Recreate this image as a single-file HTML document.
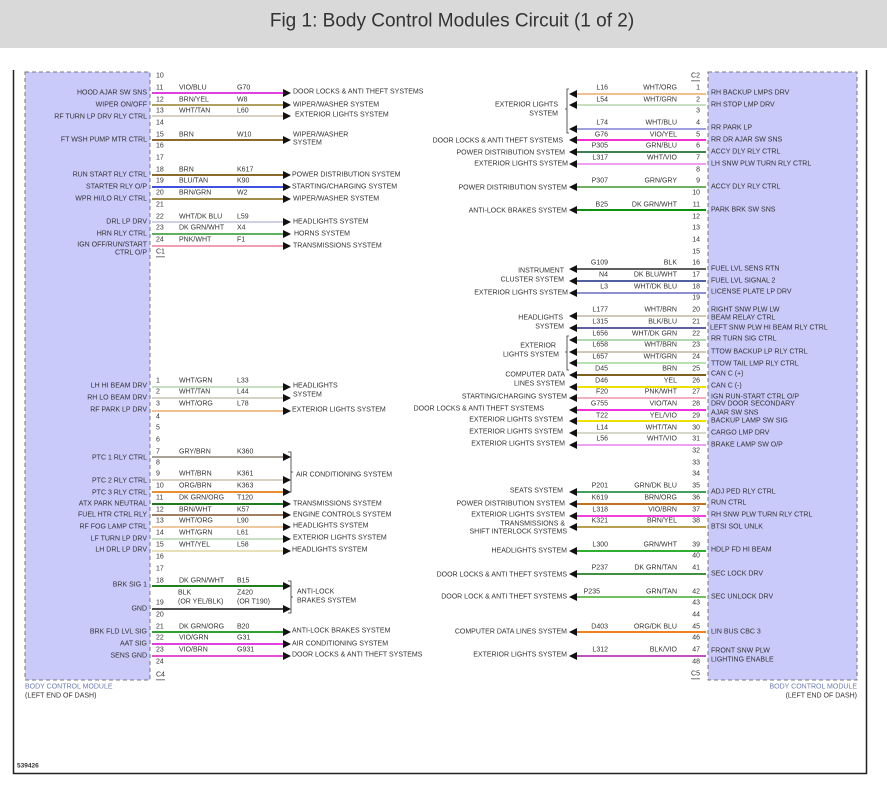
<!DOCTYPE html>
<html><head><meta charset="utf-8"><style>
body{margin:0;background:#fff;width:887px;height:799px;overflow:hidden}
svg{display:block}
text{font-family:"Liberation Sans",sans-serif;font-size:7px;fill:#333;dominant-baseline:central}
.e{text-anchor:end}
.t{font-size:19px;fill:#333;text-anchor:middle}
.b{fill:#6b7bb0}
</style></head><body>
<svg width="887" height="799" viewBox="0 0 887 799">
<rect x="0" y="0" width="887" height="48" fill="#d9d9d9"/>
<text class="t" x="452" y="21">Fig 1: Body Control Modules Circuit (1 of 2)</text>
<path d="M13.5 70V773.5H866.5V70" fill="none" stroke="#222" stroke-width="1.5"/>
<rect x="25" y="72" width="125" height="608" fill="#c9c9fa" stroke="#777" stroke-dasharray="4,3"/>
<rect x="708" y="72" width="149" height="608" fill="#c9c9fa" stroke="#777" stroke-dasharray="4,3"/>
<text x="25" y="687" class="b">BODY CONTROL MODULE</text>
<text x="25" y="696">(LEFT END OF DASH)</text>
<text x="857" y="687" class="b e">BODY CONTROL MODULE</text>
<text x="857" y="696" class="e">(LEFT END OF DASH)</text>
<text x="17" y="766" style="font-weight:bold;font-size:6.5px">539426</text>

<!-- LEFT TOP pins -->
<g>
<text x="156" y="76">10</text><text x="156" y="88">11</text><text x="156" y="100">12</text><text x="156" y="111">13</text><text x="156" y="123">14</text><text x="156" y="135">15</text><text x="156" y="146">16</text><text x="156" y="158">17</text><text x="156" y="170">18</text><text x="156" y="181">19</text><text x="156" y="193">20</text><text x="156" y="205">21</text><text x="156" y="217">22</text><text x="156" y="228">23</text><text x="156" y="240">24</text><text x="156" y="252" style="text-decoration:underline">C1</text>
</g>
<g stroke-width="2">
<line x1="152" y1="93" x2="285" y2="93" stroke="#e040e0"/>
<line x1="152" y1="105" x2="285" y2="105" stroke="#b0a060"/>
<line x1="152" y1="116" x2="285" y2="116" stroke="#d8d2c4"/>
<line x1="152" y1="140" x2="285" y2="140" stroke="#8b6a2b"/>
<line x1="152" y1="175" x2="285" y2="175" stroke="#8b6a2b"/>
<line x1="152" y1="187" x2="285" y2="187" stroke="#4050e0"/>
<line x1="152" y1="199" x2="285" y2="199" stroke="#a08c4a"/>
<line x1="152" y1="222" x2="285" y2="222" stroke="#d0d0e4"/>
<line x1="152" y1="234" x2="285" y2="234" stroke="#60b060"/>
<line x1="152" y1="246" x2="285" y2="246" stroke="#f0a0b0"/>
</g>
<g fill="#111">
<polygon points="283,89 291,93 283,97"/><polygon points="283,101 291,105 283,109"/><polygon points="283,112 291,116 283,120"/><polygon points="283,136 291,140 283,144"/><polygon points="283,171 291,175 283,179"/><polygon points="283,183 291,187 283,191"/><polygon points="283,195 291,199 283,203"/><polygon points="283,218 291,222 283,226"/><polygon points="283,230 291,234 283,238"/><polygon points="283,242 291,246 283,250"/>
</g>
<g>
<text x="179" y="88">VIO/BLU</text><text x="237" y="88">G70</text>
<text x="179" y="100">BRN/YEL</text><text x="237" y="100">W8</text>
<text x="179" y="111">WHT/TAN</text><text x="237" y="111">L60</text>
<text x="179" y="135">BRN</text><text x="237" y="135">W10</text>
<text x="179" y="170">BRN</text><text x="237" y="170">K617</text>
<text x="179" y="181">BLU/TAN</text><text x="237" y="181">K90</text>
<text x="179" y="193">BRN/GRN</text><text x="237" y="193">W2</text>
<text x="179" y="217">WHT/DK BLU</text><text x="237" y="217">L59</text>
<text x="179" y="228">DK GRN/WHT</text><text x="237" y="228">X4</text>
<text x="179" y="240">PNK/WHT</text><text x="237" y="240">F1</text>
<text x="147" y="93" class="e">HOOD AJAR SW SNS</text>
<text x="147" y="105" class="e">WIPER ON/OFF</text>
<text x="147" y="117" class="e">RF TURN LP DRV RLY CTRL</text>
<text x="147" y="140" class="e">FT WSH PUMP MTR CTRL</text>
<text x="147" y="175" class="e">RUN START RLY CTRL</text>
<text x="147" y="187" class="e">STARTER RLY O/P</text>
<text x="147" y="199" class="e">WPR HI/LO RLY CTRL</text>
<text x="147" y="222" class="e">DRL LP DRV</text>
<text x="147" y="234" class="e">HRN RLY CTRL</text>
<text x="147" y="245" class="e">IGN OFF/RUN/START</text>
<text x="147" y="253" class="e">CTRL O/P</text>
<text x="293" y="92">DOOR LOCKS &amp; ANTI THEFT SYSTEMS</text>
<text x="293" y="105">WIPER/WASHER SYSTEM</text>
<text x="295" y="115">EXTERIOR LIGHTS SYSTEM</text>
<text x="293" y="135">WIPER/WASHER</text><text x="293" y="143">SYSTEM</text>
<text x="292" y="175">POWER DISTRIBUTION SYSTEM</text>
<text x="292" y="187">STARTING/CHARGING SYSTEM</text>
<text x="293" y="199">WIPER/WASHER SYSTEM</text>
<text x="293" y="222">HEADLIGHTS SYSTEM</text>
<text x="294" y="234">HORNS SYSTEM</text>
<text x="293" y="246">TRANSMISSIONS SYSTEM</text>
</g>

<!-- LEFT BOTTOM -->
<g>
<text x="156" y="381">1</text><text x="156" y="392">2</text><text x="156" y="404">3</text><text x="156" y="417">4</text><text x="156" y="428">5</text><text x="156" y="440">6</text><text x="156" y="452">7</text><text x="156" y="463">8</text><text x="156" y="474">9</text><text x="156" y="486">10</text><text x="156" y="498">11</text><text x="156" y="510">12</text><text x="156" y="521">13</text><text x="156" y="533">14</text><text x="156" y="545">15</text><text x="156" y="557">16</text><text x="156" y="569">17</text><text x="156" y="581">18</text><text x="156" y="603">19</text><text x="156" y="615">20</text><text x="156" y="627">21</text><text x="156" y="638">22</text><text x="156" y="650">23</text><text x="156" y="662">24</text><text x="156" y="675" style="text-decoration:underline">C4</text>
</g>
<g stroke-width="2">
<line x1="152" y1="387" x2="285" y2="387" stroke="#c8e0c0"/>
<line x1="152" y1="398" x2="285" y2="398" stroke="#d8d2c4"/>
<line x1="152" y1="411" x2="285" y2="411" stroke="#f0c090"/>
<line x1="152" y1="457" x2="285" y2="457" stroke="#a8a298"/>
<line x1="152" y1="480" x2="285" y2="480" stroke="#d8d0c0"/>
<line x1="152" y1="492" x2="285" y2="492" stroke="#e89030"/>
<line x1="152" y1="504" x2="285" y2="504" stroke="#207a20"/>
<line x1="152" y1="515" x2="285" y2="515" stroke="#a08060"/>
<line x1="152" y1="527" x2="285" y2="527" stroke="#f0c8a0"/>
<line x1="152" y1="539" x2="285" y2="539" stroke="#c8e0c0"/>
<line x1="152" y1="551" x2="285" y2="551" stroke="#e8e0b8"/>
<line x1="152" y1="586" x2="285" y2="586" stroke="#208020"/>
<line x1="152" y1="609" x2="285" y2="609" stroke="#505050"/>
<line x1="152" y1="632" x2="285" y2="632" stroke="#30a030"/>
<line x1="152" y1="644" x2="285" y2="644" stroke="#e040e0"/>
<line x1="152" y1="656" x2="285" y2="656" stroke="#e050d0"/>
</g>
<g fill="#111">
<polygon points="283,383 291,387 283,391"/><polygon points="283,394 291,398 283,402"/><polygon points="283,407 291,411 283,415"/><polygon points="283,453 291,457 283,461"/><polygon points="283,476 291,480 283,484"/><polygon points="283,488 291,492 283,496"/><polygon points="283,500 291,504 283,508"/><polygon points="283,511 291,515 283,519"/><polygon points="283,523 291,527 283,531"/><polygon points="283,535 291,539 283,543"/><polygon points="283,547 291,551 283,555"/><polygon points="283,582 291,586 283,590"/><polygon points="283,605 291,609 283,613"/><polygon points="283,628 291,632 283,636"/><polygon points="283,640 291,644 283,648"/><polygon points="283,652 291,656 283,660"/>
</g>
<path d="M288 452h3v40h-3M291 472h2M288 581h3v32h-3M291 597h2" fill="none" stroke="#333" stroke-width="0.8"/>
<g>
<text x="179" y="381">WHT/GRN</text><text x="237" y="381">L33</text>
<text x="179" y="392">WHT/TAN</text><text x="237" y="392">L44</text>
<text x="179" y="404">WHT/ORG</text><text x="237" y="404">L78</text>
<text x="179" y="452">GRY/BRN</text><text x="237" y="452">K360</text>
<text x="179" y="474">WHT/BRN</text><text x="237" y="474">K361</text>
<text x="179" y="486">ORG/BRN</text><text x="237" y="486">K363</text>
<text x="179" y="498">DK GRN/ORG</text><text x="237" y="498">T120</text>
<text x="179" y="510">BRN/WHT</text><text x="237" y="510">K57</text>
<text x="179" y="521">WHT/ORG</text><text x="237" y="521">L90</text>
<text x="179" y="533">WHT/GRN</text><text x="237" y="533">L61</text>
<text x="179" y="545">WHT/YEL</text><text x="237" y="545">L58</text>
<text x="179" y="581">DK GRN/WHT</text><text x="237" y="581">B15</text>
<text x="178" y="593">BLK</text><text x="237" y="593">Z420</text>
<text x="178" y="602">(OR YEL/BLK)</text><text x="237" y="602">(OR T190)</text>
<text x="179" y="627">DK GRN/ORG</text><text x="237" y="627">B20</text>
<text x="179" y="638">VIO/GRN</text><text x="237" y="638">G31</text>
<text x="179" y="650">VIO/BRN</text><text x="237" y="650">G931</text>
<text x="147" y="386" class="e">LH HI BEAM DRV</text>
<text x="147" y="398" class="e">RH LO BEAM DRV</text>
<text x="147" y="410" class="e">RF PARK LP DRV</text>
<text x="147" y="458" class="e">PTC 1 RLY CTRL</text>
<text x="147" y="481" class="e">PTC 2 RLY CTRL</text>
<text x="147" y="493" class="e">PTC 3 RLY CTRL</text>
<text x="147" y="504" class="e">ATX PARK NEUTRAL</text>
<text x="147" y="515" class="e">FUEL HTR CTRL RLY</text>
<text x="147" y="527" class="e">RF FOG LAMP CTRL</text>
<text x="147" y="539" class="e">LF TURN LP DRV</text>
<text x="147" y="550" class="e">LH DRL LP DRV</text>
<text x="147" y="585" class="e">BRK SIG 1</text>
<text x="147" y="609" class="e">GND</text>
<text x="147" y="632" class="e">BRK FLD LVL SIG</text>
<text x="147" y="644" class="e">AAT SIG</text>
<text x="147" y="656" class="e">SENS GND</text>
<text x="293" y="386">HEADLIGHTS</text><text x="293" y="395">SYSTEM</text>
<text x="292" y="410">EXTERIOR LIGHTS SYSTEM</text>
<text x="296" y="475">AIR CONDITIONING SYSTEM</text>
<text x="293" y="504">TRANSMISSIONS SYSTEM</text>
<text x="293" y="515">ENGINE CONTROLS SYSTEM</text>
<text x="293" y="526">HEADLIGHTS SYSTEM</text>
<text x="293" y="538">EXTERIOR LIGHTS SYSTEM</text>
<text x="292" y="550">HEADLIGHTS SYSTEM</text>
<text x="297" y="592">ANTI-LOCK</text><text x="297" y="601">BRAKES SYSTEM</text>
<text x="292" y="631">ANTI-LOCK BRAKES SYSTEM</text>
<text x="292" y="644">AIR CONDITIONING SYSTEM</text>
<text x="292" y="655">DOOR LOCKS &amp; ANTI THEFT SYSTEMS</text>
</g>

<!-- RIGHT pins -->
<g class="e">
<text x="700" y="76" class="e" style="text-decoration:underline">C2</text>
<text x="700" y="88" class="e">1</text><text x="700" y="100" class="e">2</text><text x="700" y="111" class="e">3</text><text x="700" y="123" class="e">4</text><text x="700" y="135" class="e">5</text><text x="700" y="146" class="e">6</text><text x="700" y="158" class="e">7</text><text x="700" y="170" class="e">8</text><text x="700" y="181" class="e">9</text><text x="700" y="193" class="e">10</text><text x="700" y="205" class="e">11</text><text x="700" y="217" class="e">12</text><text x="700" y="228" class="e">13</text><text x="700" y="240" class="e">14</text><text x="700" y="252" class="e">15</text>
<text x="700" y="263" class="e">16</text><text x="700" y="275" class="e">17</text><text x="700" y="287" class="e">18</text><text x="700" y="298" class="e">19</text><text x="700" y="310" class="e">20</text><text x="700" y="322" class="e">21</text><text x="700" y="334" class="e">22</text><text x="700" y="345" class="e">23</text><text x="700" y="357" class="e">24</text><text x="700" y="369" class="e">25</text><text x="700" y="381" class="e">26</text><text x="700" y="392" class="e">27</text><text x="700" y="404" class="e">28</text><text x="700" y="416" class="e">29</text><text x="700" y="428" class="e">30</text><text x="700" y="439" class="e">31</text><text x="700" y="451" class="e">32</text>
<text x="700" y="463" class="e">33</text><text x="700" y="474" class="e">34</text><text x="700" y="486" class="e">35</text><text x="700" y="498" class="e">36</text><text x="700" y="510" class="e">37</text><text x="700" y="521" class="e">38</text><text x="700" y="545" class="e">39</text><text x="700" y="556" class="e">40</text><text x="700" y="568" class="e">41</text><text x="700" y="592" class="e">42</text><text x="700" y="603" class="e">43</text><text x="700" y="615" class="e">44</text><text x="700" y="627" class="e">45</text><text x="700" y="638" class="e">46</text><text x="700" y="650" class="e">47</text><text x="700" y="662" class="e">48</text><text x="700" y="674" class="e" style="text-decoration:underline">C5</text>
</g>
<g stroke-width="2">
<line x1="572" y1="94" x2="706" y2="94" stroke="#f0c090"/>
<line x1="572" y1="105" x2="706" y2="105" stroke="#c8e0c0"/>
<line x1="572" y1="129" x2="706" y2="129" stroke="#a0a0e0"/>
<line x1="572" y1="140" x2="706" y2="140" stroke="#f030d0"/>
<line x1="572" y1="152" x2="706" y2="152" stroke="#408050"/>
<line x1="572" y1="164" x2="706" y2="164" stroke="#f0a0f0"/>
<line x1="572" y1="187" x2="706" y2="187" stroke="#70b060"/>
<line x1="572" y1="210" x2="706" y2="210" stroke="#109010"/>
<line x1="572" y1="269" x2="706" y2="269" stroke="#606060"/>
<line x1="572" y1="281" x2="706" y2="281" stroke="#5060a0"/>
<line x1="572" y1="293" x2="706" y2="293" stroke="#9090d0"/>
<line x1="572" y1="316" x2="706" y2="316" stroke="#d0c8b8"/>
<line x1="572" y1="328" x2="706" y2="328" stroke="#6060a0"/>
<line x1="572" y1="340" x2="706" y2="340" stroke="#b0d8b0"/>
<line x1="572" y1="352" x2="706" y2="352" stroke="#d0c8b8"/>
<line x1="572" y1="363" x2="706" y2="363" stroke="#b8e0b0"/>
<line x1="572" y1="375" x2="706" y2="375" stroke="#806020"/>
<line x1="572" y1="387" x2="706" y2="387" stroke="#f0e000"/>
<line x1="572" y1="398" x2="706" y2="398" stroke="#f0b0c0"/>
<line x1="572" y1="410" x2="706" y2="410" stroke="#f030e0"/>
<line x1="572" y1="421" x2="706" y2="421" stroke="#f0e000"/>
<line x1="572" y1="433" x2="706" y2="433" stroke="#d8d8c8"/>
<line x1="572" y1="445" x2="706" y2="445" stroke="#f0a0f0"/>
<line x1="572" y1="492" x2="706" y2="492" stroke="#40a060"/>
<line x1="572" y1="504" x2="706" y2="504" stroke="#c07020"/>
<line x1="572" y1="516" x2="706" y2="516" stroke="#f040e0"/>
<line x1="572" y1="527" x2="706" y2="527" stroke="#b8a050"/>
<line x1="572" y1="551" x2="706" y2="551" stroke="#30b030"/>
<line x1="572" y1="574" x2="706" y2="574" stroke="#409040"/>
<line x1="572" y1="597" x2="706" y2="597" stroke="#70c060"/>
<line x1="572" y1="632" x2="706" y2="632" stroke="#f08020"/>
<line x1="572" y1="656" x2="706" y2="656" stroke="#c050c0"/>
</g>
<g fill="#111">
<polygon points="577,90 569,94 577,98"/><polygon points="577,101 569,105 577,109"/><polygon points="577,125 569,129 577,133"/><polygon points="577,136 569,140 577,144"/><polygon points="577,148 569,152 577,156"/><polygon points="577,160 569,164 577,168"/><polygon points="577,183 569,187 577,191"/><polygon points="577,206 569,210 577,214"/>
<polygon points="577,265 569,269 577,273"/><polygon points="577,277 569,281 577,285"/><polygon points="577,289 569,293 577,297"/><polygon points="577,312 569,316 577,320"/><polygon points="577,324 569,328 577,332"/><polygon points="577,336 569,340 577,344"/><polygon points="577,348 569,352 577,356"/><polygon points="577,359 569,363 577,367"/><polygon points="577,371 569,375 577,379"/><polygon points="577,383 569,387 577,391"/><polygon points="577,394 569,398 577,402"/><polygon points="577,406 569,410 577,414"/><polygon points="577,417 569,421 577,425"/><polygon points="577,429 569,433 577,437"/><polygon points="577,441 569,445 577,449"/>
<polygon points="577,488 569,492 577,496"/><polygon points="577,500 569,504 577,508"/><polygon points="577,512 569,516 577,520"/><polygon points="577,523 569,527 577,531"/><polygon points="577,547 569,551 577,555"/><polygon points="577,570 569,574 577,578"/><polygon points="577,593 569,597 577,601"/><polygon points="577,628 569,632 577,636"/><polygon points="577,652 569,656 577,660"/>
</g>
<path d="M569 89h-2v44h2M567 109h-2M569 336h-2v34h2M567 352h-2" fill="none" stroke="#333" stroke-width="0.8"/>
<g class="e">
<text x="600" y="88" class="e" dx="8">L16</text><text x="677" y="88" class="e">WHT/ORG</text>
<text x="608" y="100" class="e">L54</text><text x="677" y="100" class="e">WHT/GRN</text>
<text x="608" y="123" class="e">L74</text><text x="677" y="123" class="e">WHT/BLU</text>
<text x="608" y="135" class="e">G76</text><text x="677" y="135" class="e">VIO/YEL</text>
<text x="608" y="146" class="e">P305</text><text x="677" y="146" class="e">GRN/BLU</text>
<text x="608" y="158" class="e">L317</text><text x="677" y="158" class="e">WHT/VIO</text>
<text x="608" y="181" class="e">P307</text><text x="677" y="181" class="e">GRN/GRY</text>
<text x="608" y="205" class="e">B25</text><text x="677" y="205" class="e">DK GRN/WHT</text>
<text x="608" y="263" class="e">G109</text><text x="677" y="263" class="e">BLK</text>
<text x="608" y="275" class="e">N4</text><text x="677" y="275" class="e">DK BLU/WHT</text>
<text x="608" y="287" class="e">L3</text><text x="677" y="287" class="e">WHT/DK BLU</text>
<text x="608" y="310" class="e">L177</text><text x="677" y="310" class="e">WHT/BRN</text>
<text x="608" y="322" class="e">L315</text><text x="677" y="322" class="e">BLK/BLU</text>
<text x="608" y="334" class="e">L656</text><text x="677" y="334" class="e">WHT/DK GRN</text>
<text x="608" y="345" class="e">L658</text><text x="677" y="345" class="e">WHT/BRN</text>
<text x="608" y="357" class="e">L657</text><text x="677" y="357" class="e">WHT/GRN</text>
<text x="608" y="369" class="e">D45</text><text x="677" y="369" class="e">BRN</text>
<text x="608" y="381" class="e">D46</text><text x="677" y="381" class="e">YEL</text>
<text x="608" y="392" class="e">F20</text><text x="677" y="392" class="e">PNK/WHT</text>
<text x="608" y="404" class="e">G755</text><text x="677" y="404" class="e">VIO/TAN</text>
<text x="608" y="416" class="e">T22</text><text x="677" y="416" class="e">YEL/VIO</text>
<text x="608" y="428" class="e">L14</text><text x="677" y="428" class="e">WHT/TAN</text>
<text x="608" y="439" class="e">L56</text><text x="677" y="439" class="e">WHT/VIO</text>
<text x="608" y="486" class="e">P201</text><text x="677" y="486" class="e">GRN/DK BLU</text>
<text x="608" y="498" class="e">K619</text><text x="677" y="498" class="e">BRN/ORG</text>
<text x="608" y="510" class="e">L318</text><text x="677" y="510" class="e">VIO/BRN</text>
<text x="608" y="521" class="e">K321</text><text x="677" y="521" class="e">BRN/YEL</text>
<text x="608" y="545" class="e">L300</text><text x="677" y="545" class="e">GRN/WHT</text>
<text x="608" y="568" class="e">P237</text><text x="677" y="568" class="e">DK GRN/TAN</text>
<text x="600" y="592" class="e">P235</text><text x="677" y="592" class="e">GRN/TAN</text>
<text x="608" y="627" class="e">D403</text><text x="677" y="627" class="e">ORG/DK BLU</text>
<text x="608" y="650" class="e">L312</text><text x="677" y="650" class="e">BLK/VIO</text>
</g>
<g>
<text x="711" y="93">RH BACKUP LMPS DRV</text>
<text x="711" y="105">RH STOP LMP DRV</text>
<text x="711" y="128">RR PARK LP</text>
<text x="711" y="140">RR DR AJAR SW SNS</text>
<text x="711" y="152">ACCY DLY RLY CTRL</text>
<text x="711" y="164">LH SNW PLW TURN RLY CTRL</text>
<text x="711" y="187">ACCY DLY RLY CTRL</text>
<text x="711" y="210">PARK BRK SW SNS</text>
<text x="711" y="269">FUEL LVL SENS RTN</text>
<text x="711" y="281">FUEL LVL SIGNAL 2</text>
<text x="711" y="292">LICENSE PLATE LP DRV</text>
<text x="711" y="310">RIGHT SNW PLW LW</text>
<text x="711" y="318">BEAM RELAY CTRL</text>
<text x="710" y="328">LEFT SNW PLW HI BEAM RLY CTRL</text>
<text x="711" y="339">RR TURN SIG CTRL</text>
<text x="711" y="352">TTOW BACKUP LP RLY CTRL</text>
<text x="711" y="364">TTOW TAIL LMP RLY CTRL</text>
<text x="711" y="374">CAN C (+)</text>
<text x="711" y="386">CAN C (-)</text>
<text x="711" y="397">IGN RUN-START CTRL O/P</text>
<text x="711" y="404">DRV DOOR SECONDARY</text>
<text x="711" y="413">AJAR SW SNS</text>
<text x="711" y="421">BACKUP LAMP SW SIG</text>
<text x="711" y="433">CARGO LMP DRV</text>
<text x="711" y="445">BRAKE LAMP SW O/P</text>
<text x="711" y="492">ADJ PED RLY CTRL</text>
<text x="711" y="503">RUN CTRL</text>
<text x="711" y="515">RH SNW PLW TURN RLY CTRL</text>
<text x="711" y="527">BTSI SOL UNLK</text>
<text x="711" y="550">HDLP FD HI BEAM</text>
<text x="711" y="574">SEC LOCK DRV</text>
<text x="711" y="597">SEC UNLOCK DRV</text>
<text x="711" y="632">LIN BUS CBC 3</text>
<text x="711" y="651">FRONT SNW PLW</text>
<text x="711" y="660">LIGHTING ENABLE</text>
</g>
<g class="e">
<text x="558" y="105" class="e">EXTERIOR LIGHTS</text><text x="558" y="114" class="e">SYSTEM</text>
<text x="563" y="141" class="e">DOOR LOCKS &amp; ANTI THEFT SYSTEMS</text>
<text x="565" y="153" class="e">POWER DISTRIBUTION SYSTEM</text>
<text x="568" y="164" class="e">EXTERIOR LIGHTS SYSTEM</text>
<text x="567" y="188" class="e">POWER DISTRIBUTION SYSTEM</text>
<text x="567" y="211" class="e">ANTI-LOCK BRAKES SYSTEM</text>
<text x="564" y="271" class="e">INSTRUMENT</text><text x="564" y="280" class="e">CLUSTER SYSTEM</text>
<text x="568" y="293" class="e">EXTERIOR LIGHTS SYSTEM</text>
<text x="563" y="318" class="e">HEADLIGHTS</text><text x="564" y="327" class="e">SYSTEM</text>
<text x="556" y="346" class="e">EXTERIOR</text><text x="559" y="355" class="e">LIGHTS SYSTEM</text>
<text x="565" y="375" class="e">COMPUTER DATA</text><text x="565" y="384" class="e">LINES SYSTEM</text>
<text x="567" y="397" class="e">STARTING/CHARGING SYSTEM</text>
<text x="544" y="409" class="e">DOOR LOCKS &amp; ANTI THEFT SYSTEMS</text>
<text x="563" y="420" class="e">EXTERIOR LIGHTS SYSTEM</text>
<text x="563" y="432" class="e">EXTERIOR LIGHTS SYSTEM</text>
<text x="565" y="444" class="e">EXTERIOR LIGHTS SYSTEM</text>
<text x="563" y="491" class="e">SEATS SYSTEM</text>
<text x="565" y="504" class="e">POWER DISTRIBUTION SYSTEM</text>
<text x="565" y="515" class="e">EXTERIOR LIGHTS SYSTEM</text>
<text x="565" y="524" class="e">TRANSMISSIONS &amp;</text><text x="567" y="532" class="e">SHIFT INTERLOCK SYSTEMS</text>
<text x="567" y="551" class="e">HEADLIGHTS SYSTEM</text>
<text x="567" y="575" class="e">DOOR LOCKS &amp; ANTI THEFT SYSTEMS</text>
<text x="567" y="597" class="e">DOOR LOCK &amp; ANTI THEFT SYSTEMS</text>
<text x="567" y="632" class="e">COMPUTER DATA LINES SYSTEM</text>
<text x="567" y="655" class="e">EXTERIOR LIGHTS SYSTEM</text>
</g>
</svg>
</body></html>
